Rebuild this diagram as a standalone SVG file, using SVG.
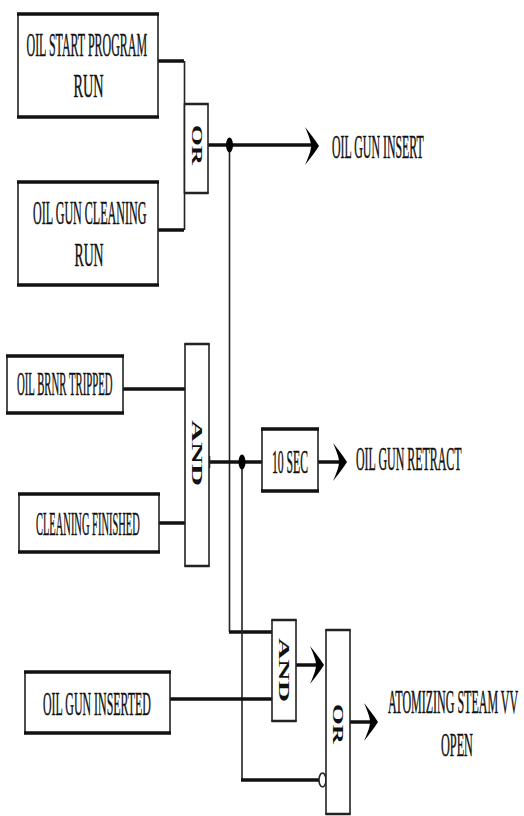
<svg xmlns="http://www.w3.org/2000/svg" width="524" height="816" viewBox="0 0 524 816">
<style>
.t{font-family:"Liberation Serif","Times New Roman",serif;font-size:34px;fill:#111;stroke:#111;stroke-width:0.5;text-anchor:start}
.r{font-family:"Liberation Serif","Times New Roman",serif;font-size:28px;font-weight:bold;fill:#111;text-anchor:middle}
.box{fill:#fff;stroke:#222;stroke-width:1.6}
.edge{stroke:#111;stroke-width:3.5;fill:none}
.gedge{stroke:#222;stroke-width:2.4;fill:none}
.h{stroke:#111;stroke-width:3.5;fill:none}
.v{stroke:#222;stroke-width:1.6;fill:none}
.dot{fill:#000}
.bub{fill:#fff;stroke:#222;stroke-width:1.6}
</style>
<defs>
<path id="ah" d="M-14,-19 C-9,-13 -4,-6 0,0 C-4,6 -9,13 -14,19 C-10,10 -8,4 -8,0 C-8,-4 -10,-10 -14,-19 Z" fill="#000"/>
</defs>
<rect width="524" height="816" fill="#fff"/>

<g id="connectors">
<path class="h" d="M158,61 H184 M158,230 H184"/>
<path class="v" d="M184.5,61 V230"/>
<path class="h" d="M208,145 H312"/>
<path class="v" d="M229.5,145 V632"/>
<path class="h" d="M229,632 H272"/>
<path class="h" d="M123,389 H185 M159,523 H185"/>
<path class="h" d="M209,462 H262"/>
<path class="v" d="M209.5,456 V468"/>
<path class="v" d="M242,462 V780"/>
<path class="h" d="M241,780 H319"/>
<path class="h" d="M318,462 H340"/>
<path class="h" d="M170,699 H272"/>
<path class="h" d="M296,665 H317"/>
<path class="h" d="M350,722 H371"/>
<use href="#ah" x="319" y="146"/>
<use href="#ah" x="347" y="462"/>
<use href="#ah" x="324" y="665"/>
<use href="#ah" x="378" y="722"/>
<ellipse class="dot" cx="229.5" cy="145" rx="3.5" ry="7.5"/>
<ellipse class="dot" cx="242" cy="462" rx="3.5" ry="7.5"/>
<ellipse class="bub" cx="322.5" cy="780" rx="3.5" ry="7"/>
</g>

<g id="oil-start-program-run">
<rect class="box" x="18" y="14" width="140" height="103"/>
<path class="edge" d="M17,14 H159 M17,117 H159"/>
<text class="t" transform="translate(26.5,56) scale(0.352,1)">OIL START PROGRAM</text>
<text class="t" transform="translate(73.5,97) scale(0.419,1)">RUN</text>
</g>

<g id="oil-gun-cleaning-run">
<rect class="box" x="18" y="182" width="140" height="103"/>
<path class="edge" d="M17,182 H159 M17,285 H159"/>
<text class="t" transform="translate(33,224) scale(0.355,1)">OIL GUN CLEANING</text>
<text class="t" transform="translate(74.5,266) scale(0.405,1)">RUN</text>
</g>

<g id="or-gate-1">
<rect class="box" x="184.5" y="104" width="23.5" height="89"/>
<path class="gedge" d="M184,104 H208.5 M184,193 H208.5"/>
<text class="r" transform="translate(196.5,145) scale(0.5,1) rotate(90)" x="0" y="9.5" textLength="40" lengthAdjust="spacingAndGlyphs">OR</text>
</g>

<g id="oil-gun-insert">
<text class="t" transform="translate(332,158) scale(0.349,1)">OIL GUN INSERT</text>
</g>

<g id="oil-brnr-tripped">
<rect class="box" x="7" y="356" width="116" height="57"/>
<path class="edge" d="M6,356 H124 M6,413 H124"/>
<text class="t" transform="translate(17,395) scale(0.316,1)">OIL BRNR TRIPPED</text>
</g>

<g id="cleaning-finished">
<rect class="box" x="19" y="494" width="140" height="58"/>
<path class="edge" d="M18,494 H160 M18,552 H160"/>
<text class="t" transform="translate(36,535) scale(0.308,1)">CLEANING FINISHED</text>
</g>

<g id="and-gate-1">
<rect class="box" x="185" y="344" width="24" height="222"/>
<path class="gedge" d="M184.5,344 H209.5 M184.5,566 H209.5"/>
<text class="r" transform="translate(197,453) scale(0.5,1) rotate(90)" x="0" y="9.5" textLength="66" lengthAdjust="spacingAndGlyphs">AND</text>
</g>

<g id="timer-10-sec">
<rect class="box" x="262" y="429" width="56" height="62"/>
<path class="edge" d="M261,429 H319 M261,491 H319"/>
<text class="t" transform="translate(272,473) scale(0.344,1)">10 SEC</text>
</g>

<g id="oil-gun-retract">
<text class="t" transform="translate(356,470) scale(0.351,1)">OIL GUN RETRACT</text>
</g>

<g id="oil-gun-inserted">
<rect class="box" x="25" y="672" width="145" height="61"/>
<path class="edge" d="M24,672 H171 M24,733 H171"/>
<text class="t" transform="translate(43,715) scale(0.350,1)">OIL GUN INSERTED</text>
</g>

<g id="and-gate-2">
<rect class="box" x="272" y="620" width="24" height="101"/>
<path class="gedge" d="M271.5,620 H296.5 M271.5,721 H296.5"/>
<text class="r" transform="translate(284,670) scale(0.5,1) rotate(90)" x="0" y="9.5" textLength="64" lengthAdjust="spacingAndGlyphs">AND</text>
</g>

<g id="or-gate-2">
<rect class="box" x="326" y="630" width="24" height="184"/>
<path class="gedge" d="M325.5,630 H350.5 M325.5,814 H350.5"/>
<text class="r" transform="translate(338,724) scale(0.5,1) rotate(90)" x="0" y="9.5" textLength="40" lengthAdjust="spacingAndGlyphs">OR</text>
</g>

<g id="atomizing-steam-vv-open">
<text class="t" transform="translate(388,713) scale(0.353,1)">ATOMIZING STEAM VV</text>
<text class="t" transform="translate(441,756) scale(0.360,1)">OPEN</text>
</g>
</svg>
